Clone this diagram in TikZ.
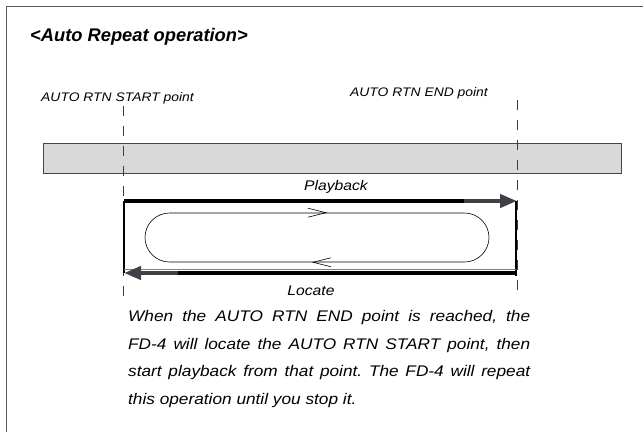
\documentclass[tikz,border=0pt]{standalone}
\usepackage{fontspec}
\setmainfont{Liberation Sans}
\newfontfamily\widesans[FakeStretch=1.12]{Liberation Sans}
\usepackage{tikz}
\usetikzlibrary{arrows.meta, positioning, calc}
\definecolor{framegray}{RGB}{90,90,90}
\definecolor{bandfill}{RGB}{217,217,217}
\definecolor{banddraw}{RGB}{70,70,70}
\definecolor{tipgray}{RGB}{64,64,70}
\definecolor{markgray}{RGB}{60,60,60}
\tikzset{
  titletext/.style={font=\fontsize{18.3}{22}\selectfont\bfseries\itshape, inner sep=0pt},
  ptlabel/.style={font=\widesans\fontsize{12.4}{14}\selectfont\itshape, inner sep=0pt},
  arrowlabel/.style={font=\widesans\fontsize{14}{16}\selectfont\itshape, inner sep=0pt},
  bodytext/.style={font=\widesans\fontsize{15.4}{27.7}\selectfont\itshape\frenchspacing, inner sep=0pt,
    text width=402pt, align=justify},
  band/.style={rectangle, draw=banddraw, fill=bandfill, line width=0.9pt,
    minimum width=578pt, minimum height=30pt, inner sep=0pt},
  track/.style={rectangle, draw=black, line width=0.6pt, rounded corners=24.5pt,
    minimum width=344pt, minimum height=49pt, inner sep=0pt},
  marker/.style={draw=markgray, line width=0.9pt, dash pattern=on 10pt off 10pt},
  heavy/.style={line width=4pt, black},
  heavytip/.style={line width=4pt, tipgray, -{Triangle[length=17pt, width=13pt]}, shorten >=-2pt},
  chev/.style={line width=0.6pt, black}
}

\begin{document}
\begin{tikzpicture}[x=1pt, y=1pt]
  \useasboundingbox (0,0) rectangle (643,-432);

  % Frame
  \draw[framegray, line width=1.6pt] (6.5,-432) -- (6.5,-6.5) -- (643,-6.5);

  % Titles and labels
  \node[titletext, anchor=base west] (title) at (30,-41.5) {<Auto Repeat operation>};
  \node[ptlabel] (startlbl) at (117.5,-98) {AUTO RTN START point};
  \node[ptlabel] (endlbl) at (419,-93) {AUTO RTN END point};

  % Band
  \node[band] (band) at (332,-158) {};

  % Point markers
  \coordinate (stop) at (123.5,-106);
  \coordinate (sbot) at (123.5,-300);
  \coordinate (etop) at (517.5,-100);
  \coordinate (ebot) at (517.5,-290);
  \draw[marker] (stop) -- (sbot);
  \draw[marker] (etop) -- (ebot);

  % Loop frame
  \coordinate (pl) at (124,-201);
  \coordinate (pm) at (465,-201);
  \coordinate (pr) at (515,-201);
  \coordinate (lr) at (517,-273);
  \coordinate (lm) at (177,-273);
  \coordinate (ll) at (126,-273);
  \draw[line width=1.4pt] (124,-201) -- (124,-273);
  \draw[line width=1.6pt] (516,-201) -- (516,-276);
  \draw[line width=0.7pt, gray] (124,-269.5) -- (516,-269.5);

  % Playback
  \draw[heavy] (pl) -- (pm);
  \draw[heavytip] ([xshift=-1pt]pm) -- (pr);
  \node[arrowlabel, anchor=base] (playlbl) at (336,-190.5) {Playback};

  % Locate
  \draw[heavy] (lr) -- (lm);
  \draw[heavytip] ([xshift=1pt]lm) -- (ll);
  \node[arrowlabel, anchor=base] (loclbl) at (311,-295) {Locate};

  % Track
  \node[track] (track) at (317,-237.5) {};
  \draw[chev] (track.north) ++(-9,4.5) -- ++(18,-4.5) -- ++(-18,-4.5);
  \draw[chev] (track.south) ++(14,4.5) -- ++(-18,-4.5) -- ++(18,-4.5);

  % Text
  \node[bodytext, anchor=north west] (body) at (128,-310)
    {When the AUTO RTN END point is reached, the\linebreak FD-4 will locate the AUTO RTN START point, then\linebreak start playback from that point. The FD-4 will repeat\linebreak this operation until you stop it.};
\end{tikzpicture}
\end{document}
